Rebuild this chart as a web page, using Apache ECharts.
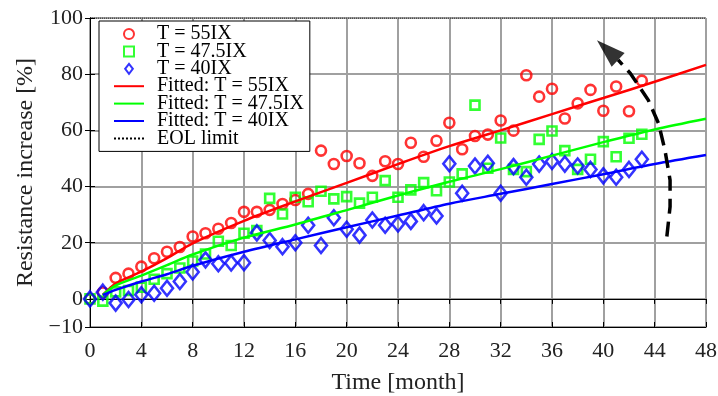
<!DOCTYPE html>
<html>
<head>
<meta charset="utf-8">
<script src="https://cdn.jsdelivr.net/npm/echarts@6/dist/echarts.min.js"></script>
<style>html,body{margin:0;padding:0;background:#fff}#c{width:718px;height:396px}</style>
</head>
<body>
<div id="c"></div>
<script>
const months = [0,1,2,3,4,5,6,7,8,9,10,11,12,13,14,15,16,17,18,19,20,21,22,23,24,25,26,27,28,29,30,31,32,33,34,35,36,37,38,39,40,41,42,43];
const red55 = [0,2.3,7.5,9,11.5,14.5,16.8,18.5,22.2,23.4,25,27,31,31,31.7,33.8,35.2,37.4,52.8,48,50.9,48.3,43.8,49,48,55.6,50.6,56.3,62.7,53.3,58,58.5,63.5,59.9,79.6,72,74.8,64.2,69.6,74.4,67,75.6,66.8,77.7];
const green475 = [0,-0.8,2.5,3,4.2,7,9,11,13.5,16,20.5,19,23.4,24.3,35.8,30.2,36.2,34.6,38.3,35.6,36.4,34.1,36.2,42.1,36.2,38.8,41.4,38.5,41.6,44.5,69,46.5,57.3,46.1,45.3,56.8,59.8,52.8,46.1,49.7,56,50.6,57.2,58.6];
const blue40 = [0,2.4,-1.5,-0.2,1.5,2,3.8,6.2,9.6,13.9,12.5,12.8,12.9,23.5,20.8,18.6,20,26.2,19,28.9,24.8,22.7,28.1,26.2,26.7,27.6,30.7,29.5,48.1,37.6,47.3,48.3,37.6,47.1,43.3,48,48.9,48,47.3,46.1,43.8,43.3,46.1,49.7];
const fitX = [1,2,4,6,8,12,16,20,24,28,32,36,40,44,48];
const redFit = [1.4,5.5,9.7,14.5,19.8,27.8,34.7,41.3,48,54.4,60,65.8,71.5,77.3,83.3];
const greenFit = [1.4,4.8,8.3,12,15.8,21.8,26.5,31.6,36.8,41.7,46.2,51,55.8,60.3,64.1];
const blueFit = [1.4,3.2,6.2,8.8,11.8,16.8,21.2,25.5,29.7,33.9,37.4,40.9,44.4,48,51.2];
const eolX = [0,48];
const eolY = [100,100];
const arrowX = [44.95,45.2,45.2,44.8,44.3,43.5,42.1,41.15];
const arrowY = [22.2,32.8,42.3,53.0,62.5,70.8,80.3,85.1];
const arrowHead = [[40.33, 88.6]];
const yTicks = [-10,0,20,40,60,80,100];
const names = ['T = 55IX','T = 47.5IX','T = 40IX','Fitted: T = 55IX','Fitted: T = 47.5IX','Fitted: T = 40IX','EOL limit'];

const FONT = 'Liberation Serif';
const RED = '#ff0000', GREEN = '#00ff00', BLUE = '#0000ff';
const zip = (xs, ys) => xs.map((x, i) => [x, ys[i]]);

const chart = echarts.init(document.getElementById('c'));
const scatter = (name, ys, symbol, size, color) => ({
  name, type: 'scatter', data: zip(months, ys), symbol, symbolSize: size,
  itemStyle: { color: 'rgba(255,255,255,0)', borderColor: color, borderWidth: 2.6 },
  z: 3
});
const fit = (name, ys, color) => ({
  name, type: 'line', data: zip(fitX, ys), smooth: 0.3, symbol: 'none',
  lineStyle: { color, width: 2.5 }, itemStyle: { color }, z: 4
});
const hidden = { opacity: 0 };
chart.setOption({
  animation: false,
  grid: { left: 90, right: 12, top: 18, bottom: 69, show: true, borderColor: '#000', borderWidth: 1,
    containLabel: false, outerBoundsMode: 'none' },
  legend: {
    orient: 'vertical', left: 99, top: 21,
    padding: [3, 6, 3, 14], itemGap: -2.6, itemWidth: 30, itemHeight: 10,
    symbolKeepAspect: true,
    backgroundColor: '#fff', borderColor: '#000', borderWidth: 1,
    textStyle: { fontFamily: FONT, fontSize: 20, color: '#000', padding: [0, 0, 0, 8] },
    data: [
      { name: names[0], icon: 'path://M5,0A5,5 0 1,1 4.99,0Z' },
      { name: names[1], icon: 'path://M0,0H9V9H0Z' },
      { name: names[2], icon: 'path://M5,0L10,6.5L5,13L0,6.5Z' },
      { name: names[3], itemStyle: hidden },
      { name: names[4], itemStyle: hidden },
      { name: names[5], itemStyle: hidden },
      { name: names[6], itemStyle: hidden }
    ]
  },
  xAxis: [{
    type: 'value', min: 0, max: 48, interval: 4,
    name: 'Time [month]', nameLocation: 'middle', nameGap: 44,
    nameTextStyle: { fontFamily: FONT, fontSize: 24, color: '#222' },
    axisLine: { show: true, onZero: false, lineStyle: { color: '#000', width: 1 } },
    axisTick: { show: true, inside: true, length: 5, lineStyle: { color: '#000' } },
    axisLabel: { fontFamily: FONT, fontSize: 22, color: '#222', margin: 13 },
    splitLine: { show: true, lineStyle: { color: '#a0a0a0', width: 2 } }
  }, {
    type: 'value', min: 0, max: 48, interval: 4, position: 'top',
    axisLine: { show: true, lineStyle: { color: '#000' } },
    axisTick: { show: true, inside: true, length: 5, lineStyle: { color: '#000' } },
    axisLabel: { show: false }, splitLine: { show: false }
  }],
  yAxis: [{
    type: 'value', min: -10, max: 100, interval: 10,
    name: 'Resistance increase [%]', nameLocation: 'middle', nameGap: 45,
    nameTextStyle: { fontFamily: FONT, fontSize: 24, color: '#222' },
    axisLine: { show: true, onZero: false, lineStyle: { color: '#000', width: 1 } },
    axisTick: { show: true, inside: true, length: 5, customValues: yTicks, lineStyle: { color: '#000' } },
    axisLabel: { fontFamily: FONT, fontSize: 22, color: '#222', margin: 7, customValues: yTicks,
      formatter: v => v < 0 ? '\u2212' + Math.abs(v) : String(v) },
    splitLine: { show: true, lineStyle: { color: '#a0a0a0', width: 2 } }
  }, {
    type: 'value', min: -10, max: 100, interval: 10, position: 'right',
    axisLine: { show: true, lineStyle: { color: '#000' } },
    axisTick: { show: true, inside: true, length: 5, customValues: yTicks, lineStyle: { color: '#000' } },
    axisLabel: { show: false }, splitLine: { show: false }
  }],
  series: [
    scatter(names[0], red55, 'circle', 10, RED),
    scatter(names[1], green475, 'rect', 9, GREEN),
    scatter(names[2], blue40, 'diamond', [12, 15], BLUE),
    fit(names[3], redFit, RED),
    fit(names[4], greenFit, GREEN),
    fit(names[5], blueFit, BLUE),
    { name: names[6], type: 'line', data: zip(eolX, eolY), symbol: 'none',
      lineStyle: { color: '#000', width: 1, type: 'dotted' }, itemStyle: { color: '#000' }, z: 2 },
    { type: 'lines', coordinateSystem: 'cartesian2d', polyline: true,
      lineStyle: { color: '#000', width: 3.5, type: [15, 8], opacity: 1 },
      data: [{ coords: zip(arrowX, arrowY) }], z: 5 },
    { type: 'scatter', data: arrowHead, symbol: 'triangle', symbolSize: [19, 29], symbolRotate: 47,
      itemStyle: { color: '#000' }, z: 6, silent: true }
  ]
});
</script>
</body>
</html>
